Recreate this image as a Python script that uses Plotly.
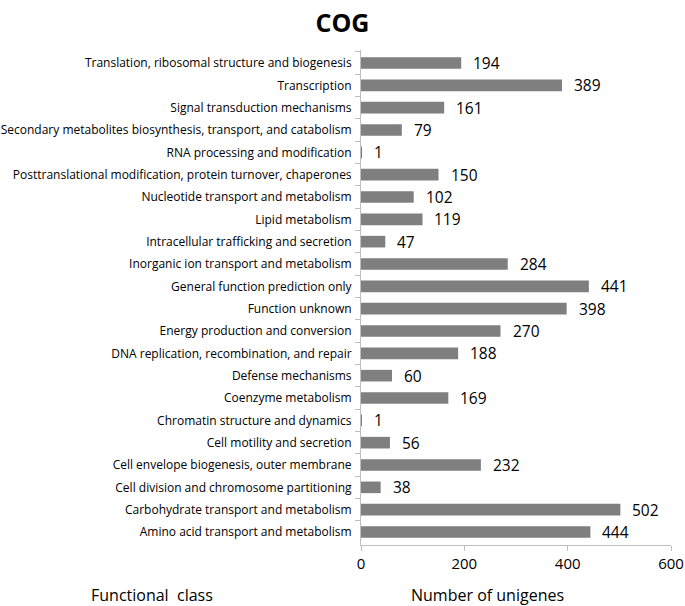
import plotly.graph_objects as go

categories = [
    "Translation, ribosomal structure and biogenesis",
    "Transcription",
    "Signal transduction mechanisms",
    "Secondary metabolites biosynthesis, transport, and catabolism",
    "RNA processing and modification",
    "Posttranslational modification, protein turnover, chaperones",
    "Nucleotide transport and metabolism",
    "Lipid metabolism",
    "Intracellular trafficking and secretion",
    "Inorganic ion transport and metabolism",
    "General function prediction only",
    "Function unknown",
    "Energy production and conversion",
    "DNA replication, recombination, and repair",
    "Defense mechanisms",
    "Coenzyme metabolism",
    "Chromatin structure and dynamics",
    "Cell motility and secretion",
    "Cell envelope biogenesis, outer membrane",
    "Cell division and chromosome partitioning",
    "Carbohydrate transport and metabolism",
    "Amino acid transport and metabolism",
]
values = [194, 389, 161, 79, 1, 150, 102, 119, 47, 284, 441, 398, 270, 188, 60, 169, 1, 56, 232, 38, 502, 444]
x_ticks = [0, 200, 400, 600]

font_family = "Open Sans, Liberation Sans, Arial, sans-serif"

fig = go.Figure()
fig.add_trace(go.Bar(
    x=values, y=categories, orientation="h",
    marker=dict(color="#7f7f7f", line=dict(width=0)),
    width=0.52,
))
for c, v in zip(categories, values):
    fig.add_annotation(x=v, y=c, text=str(v), showarrow=False,
                       xanchor="left", xshift=10,
                       font=dict(size=15.5, color="#000000", family=font_family))

fig.update_layout(
    width=685, height=606,
    margin=dict(l=361, r=14, t=50, b=61, autoexpand=False),
    plot_bgcolor="white", paper_bgcolor="white",
    showlegend=False,
    font=dict(family=font_family, color="#000000"),
    title=dict(text="<b>COG</b>", x=0.5, xanchor="center", y=0.962, yanchor="middle",
               xref="container", yref="container", automargin=False,
               font=dict(size=25, family=font_family, color="#000000")),
)
fig.update_xaxes(range=[0, 600], tickvals=x_ticks, showgrid=False, zeroline=False,
                 showline=True, linecolor="#bfbfbf", linewidth=1, automargin=False,
                 ticks="outside", ticklen=5, tickcolor="#bfbfbf",
                 tickfont=dict(size=15, family=font_family, color="#000000"))
fig.update_yaxes(autorange="reversed", showgrid=False, zeroline=False,
                 showline=True, linecolor="#bfbfbf", linewidth=1, automargin=False,
                 ticks="outside", ticklen=5, tickcolor="#bfbfbf", tickson="boundaries",
                 ticklabelstandoff=6,
                 tickfont=dict(size=12, family=font_family, color="#000000"))

fig.add_annotation(text="Functional  class", xref="paper", yref="paper",
                   x=-0.876, y=-0.1, xanchor="left", yanchor="middle", showarrow=False,
                   font=dict(size=16, family=font_family, color="#000000"))
fig.add_annotation(text="Number of unigenes", xref="paper", yref="paper",
                   x=0.155, y=-0.1, xanchor="left", yanchor="middle", showarrow=False,
                   font=dict(size=16, family=font_family, color="#000000"))

fig.write_html("out.html", config={"displayModeBar": False},
               post_script="document.body.style.margin='0';")
